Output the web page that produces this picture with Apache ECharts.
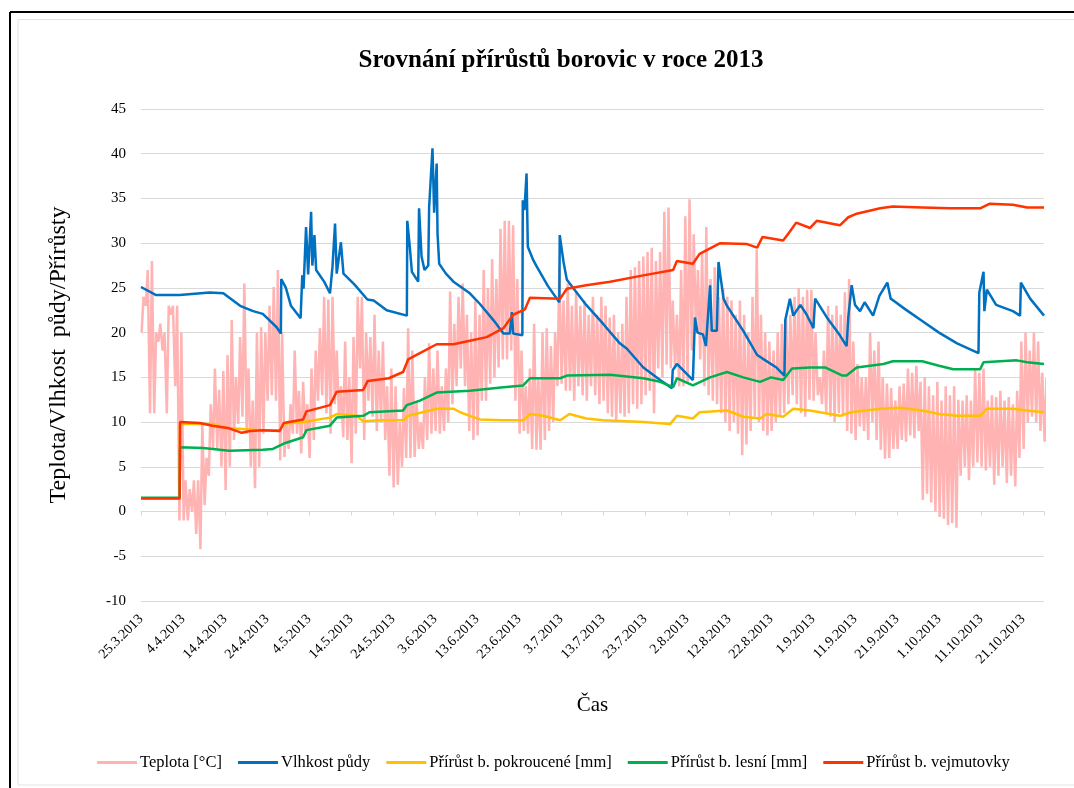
<!DOCTYPE html>
<html>
<head>
<meta charset="utf-8">
<script src="https://cdn.jsdelivr.net/npm/echarts@6/dist/echarts.min.js"></script>
<style>
html,body{margin:0;padding:0;background:#fff;}
#chart{width:1074px;height:788px;}
</style>
</head>
<body>
<div id="chart"></div>
<script>
// ---- Data (x = days since 25.3.2013) ----
const tickLabels = ['25.3.2013','4.4.2013','14.4.2013','24.4.2013','4.5.2013','14.5.2013','24.5.2013','3.6.2013','13.6.2013','23.6.2013','3.7.2013','13.7.2013','23.7.2013','2.8.2013','12.8.2013','22.8.2013','1.9.2013','11.9.2013','21.9.2013','1.10.2013','11.10.2013','21.10.2013'];
const seriesNames = ['Teplota [°C]','Vlhkost půdy','Přírůst b. pokroucené [mm]','Přírůst b. lesní [mm]','Přírůst b. vejmutovky'];

// daily minimum / maximum temperature
const tMin = [20,23,11,11,19,18,11,22,14,-1,
  -1,-1,0,-2.5,-4.2,0.7,4,7,7,5,
  2.4,5,8,9.8,10.6,8.7,5,2.6,5,8.7,
  12.4,13,12.4,5.7,6.1,7,8.7,8.7,6.5,8.7,
  6,8,12.4,13,11,8.7,12,10.6,8.3,8,
  5.4,8.7,16,8,12.4,10.6,9,10,8,4,
  2.7,3,5,6,6,6.1,7,7,8,8.7,
  9,8.7,9,10,12,14,16,14,9,8,
  8.5,12.4,12.4,14.3,15,16.1,17,17,18,12.4,
  8.7,9,8.7,7,6.9,6.9,8,9,10,14,
  14.3,13.5,13.5,12.4,14,13,12.4,14,13,12,
  12.4,11,10.6,10,11,10.6,11,12,11.5,12,
  13,13.5,11,16,15,16.4,16,16,14,14,
  14.3,18,19.9,17,14,13,12.4,12,11,10,
  9,10,8.7,6.3,7.5,9,10.6,10,9,8.5,
  9,10,10.6,11,12,13,12,11,10.6,12.5,
  12.4,13,12,11,10.6,10,11,10.6,9,8.7,
  8,9.5,9,8,10,8,6.9,5.9,6,7,
  7,8,7.8,8.5,8.2,9,1.3,2,1,0,
  -0.6,-0.8,-1.5,-1.3,-1.8,4,5,3.5,5,5.5,
  5,4.6,5,3,4,5,3.2,4,2.8,6,
  7,10,10.6,10,9,7.8];
const tMax = [24,27,28,20,21,20,23,23,23,20,
  3.5,2.5,3.5,3.5,9.8,6,12,16,13.6,15.7,
  17.5,21.4,15,19.5,25.5,16,12.4,20,20.6,20,
  23,25.1,27,20,10,12,18,13.5,14.5,12,
  16,18,20.5,24,23.7,24,18,14,19,15,
  19.5,24,24,20,19.5,22,18,19,14,16,
  14,10,13.8,20.5,18,12.4,10,15,18.8,16,
  18,14,16,24.6,21,24,25.5,22,20,23.6,
  22,27,25,28.2,26,31.6,32.5,32.5,32,26,
  18,14,16,21,15,20,20.5,18.5,20,27.3,
  23.6,25.5,23,24.6,23,23.6,22,24,22,24,
  23,21.7,22,20,21,24,27,27.3,28,28.5,
  29,29.5,28,29,33.5,34,23.6,22,27,33,
  34.9,31,27,29,31.8,26,27.3,24,25,24,
  23.6,22,23.6,22,20,24,29.3,22,20,19,
  18,20,21,21.5,22,24,25,24,24.8,24.8,
  20,15,18,23,22,23,22,24.5,26,19,
  16.5,15,15,20,18,19,15,14.3,13.8,12.4,
  14,14.3,16,15.5,16.3,14.5,15,14,13,14.5,
  12.4,14,13,14,12.5,12.4,13,12.4,16,15.5,
  16,12.4,13,12.8,13.5,12.4,12.8,12,13.5,19,
  20,18,20,19,15.5,15];

const moistDays = [0,3.6,9.2,16.4,19.6,23.6,26.7,29,32.3,33.3,33.4,34.5,35.7,38,38.4,38.7,39.3,39.8,40.5,40.8,41.3,41.7,43.6,45,45.6,46.2,46.6,47.6,48.2,50.8,53.9,55.4,58.5,63.3,63.4,64,64.5,66,66.2,66.8,67.5,68.4,68.6,69.4,69.8,70.4,70.6,71,72.6,74.4,78.3,80.7,83.9,86.3,87.8,88.3,88.6,90.8,90.9,91.3,91.8,92.1,93.4,94.2,96.9,99.6,99.7,100.6,101.4,106,110,114,115.7,119.6,123.6,126.4,126.6,127.6,131.4,131.9,132.5,133.8,134.5,135.5,135.9,137.1,137.5,138.7,139.5,143.4,146.7,148,151.3,153.2,153.4,154.5,155.3,157,158.5,160.1,160.5,163.3,166.4,168,168.4,169.2,170,171.2,172.3,174.3,175.8,177.7,178.5,179.7,182,186,190,194.3,199.4,199.6,200.6,200.8,201.4,203.6,207.6,209.3,209.5,211.7,215];
const moistVals = [25.1,24.2,24.2,24.5,24.4,23.0,22.4,22.1,20.6,19.9,26.0,25.0,23.0,21.6,26.4,24.9,31.8,26.5,33.5,27.5,30.9,27.0,25.7,24.4,27.4,32.2,26.6,30.1,26.6,25.4,23.7,23.6,22.5,21.9,32.5,29.6,26.8,25.7,33.9,28.5,27.0,27.5,34.0,40.6,33.4,38.9,31.1,27.7,26.6,25.7,24.4,23.2,21.4,19.9,19.9,22.3,19.9,19.7,34.8,33.7,37.8,29.6,28.1,27.4,25.2,23.4,30.9,27.9,25.9,23.1,21.0,18.8,18.2,16.1,14.7,13.8,15.8,16.5,14.7,21.7,20.0,19.8,18.5,25.3,20.2,20.2,27.9,23.8,23.0,20.2,17.5,17.1,16.1,15.2,21.4,23.8,21.9,23.1,22.0,20.5,23.8,21.7,19.7,18.5,21.7,25.3,23.1,22.4,23.4,21.9,24.1,25.6,23.8,23.4,22.6,21.3,20.0,18.8,17.7,24.5,26.8,22.4,24.8,23.1,22.4,21.9,25.6,23.8,21.9];

const pokrDays = [0,9.2,9.3,17,21,29,33,34,38.6,45,46.6,51.4,52.9,57,62.4,63.6,67,70.4,74.4,76,78.3,80.7,86.3,91,92.6,95.8,99.8,102,106,110,119.6,126,127.6,131.4,133,139.5,143.4,147.4,149,152.9,155.3,159.3,166.4,169,176,180.7,186,190,194.3,199.8,201.4,207.6,211,215];
const pokrVals = [1.5,1.5,9.8,9.8,9.3,9.1,9.1,9.8,10.0,10.5,10.9,10.7,10.1,10.2,10.2,10.7,11.1,11.5,11.5,11.1,10.7,10.3,10.2,10.2,10.9,10.7,10.2,10.9,10.4,10.2,10.0,9.8,10.7,10.4,11.1,11.3,10.6,10.4,10.9,10.6,11.5,11.3,10.7,11.1,11.5,11.6,11.3,10.9,10.7,10.7,11.5,11.5,11.3,11.1];

const lesniDays = [0,9.2,9.3,14.8,18.8,21,29,31.4,34,38.6,39.4,45,46.6,52.9,54.4,62.4,63.3,66.4,70.4,78.3,86.3,91,92.6,99.8,101.4,111.7,119.6,123.6,126.7,127.6,131.4,135.5,139.5,143.4,147.4,150,152.9,155,159.3,163,167,168,170.4,176.8,179,186,190,193.4,199.8,200.6,208.5,211,215];
const lesniVals = [1.55,1.55,7.2,7.1,6.9,6.8,6.9,7.0,7.6,8.3,9.1,9.6,10.5,10.7,11.1,11.3,11.9,12.4,13.3,13.5,13.9,14.1,14.9,14.9,15.2,15.3,14.9,14.5,13.9,14.9,14.1,15.0,15.6,15.0,14.5,15.0,14.7,16.0,16.1,16.1,15.2,15.2,16.1,16.5,16.8,16.8,16.3,15.9,15.9,16.7,16.9,16.7,16.5];

const vejmDays = [0,9.2,9.3,14,17,21,24,26,29,33,34,38.6,39.4,45,46.6,52.9,54,59,62.4,63.6,66.4,70.4,74.4,78.3,82.3,86.3,88.6,91.4,92.6,99.8,101.4,106,111.7,119.6,126.7,127.6,131.4,133,137.9,144.3,146.7,148,152.9,154.5,156,159.3,160.9,166.4,168.4,170.4,176,179,186,192.6,199.8,202,207.6,211,215];
const vejmVals = [1.45,1.45,10.0,9.9,9.6,9.3,8.8,9.0,9.1,9.0,9.9,10.3,11.2,11.9,13.4,13.6,14.6,14.9,15.6,17.0,17.7,18.7,18.7,19.1,19.5,20.5,22.0,22.6,23.9,23.8,24.9,25.3,25.7,26.4,27.0,28.0,27.7,28.8,30.0,29.9,29.5,30.7,30.3,31.3,32.3,31.7,32.5,32.0,32.9,33.3,33.9,34.1,34.0,33.9,33.9,34.4,34.3,34.0,34.0];

// ---- build series data ----
const zip = (xs, ys) => xs.map((x, i) => [x, ys[i]]);
const tempData = [];
tMin.forEach((v, i) => { tempData.push([i + 0.15, v]); tempData.push([i + 0.6, tMax[i]]); });

const serif = '"Liberation Serif","DejaVu Serif",serif';
const chart = echarts.init(document.getElementById('chart'), null, {renderer: 'canvas'});

function lineSeries(name, data, color, width) {
  return {
    name, type: 'line', data, xAxisIndex: 0, yAxisIndex: 0,
    symbol: 'none', showSymbol: false, smooth: false,
    lineStyle: {color, width}, itemStyle: {color},
    emphasis: {disabled: true}, silent: true
  };
}

const option = {
  animation: false,
  backgroundColor: '#ffffff',
  title: {
    text: 'Srovnání přírůstů borovic v roce 2013',
    left: 556, top: 43, textAlign: 'center',
    textStyle: {fontFamily: serif, fontSize: 25, fontWeight: 'bold', color: '#000'}
  },
  legend: {
    bottom: 12, left: 92,
    icon: 'rect', itemWidth: 40, itemHeight: 3, itemGap: 16,
    data: seriesNames,
    textStyle: {fontFamily: serif, fontSize: 16.5, color: '#000', padding: [0,0,0,-2]}
  },
  grid: {left: 141, right: 30, top: 109, bottom: 187, containLabel: false},
  xAxis: [
    {
      type: 'value', min: 0, max: 215, interval: 10,
      axisLine: {show: false, onZero: false}, axisTick: {show: false},
      splitLine: {show: false},
      axisLabel: {
        rotate: 45, margin: 16, fontFamily: serif, fontSize: 14, color: '#000',
        formatter: v => (v % 10 === 0 && tickLabels[v / 10]) ? tickLabels[v / 10] : ''
      },
      name: 'Čas', nameLocation: 'middle', nameGap: 94,
      nameTextStyle: {fontFamily: serif, fontSize: 21, color: '#000'}
    },
    {
      type: 'value', min: 0, max: 215, interval: 10, position: 'bottom',
      axisLine: {show: true, onZero: true, lineStyle: {color: '#d9d9d9', width: 1}},
      axisTick: {show: true, length: 4, lineStyle: {color: '#d9d9d9'}},
      axisLabel: {show: false}, splitLine: {show: false}
    }
  ],
  yAxis: {
    type: 'value', min: -10, max: 45, interval: 5,
    axisLine: {show: false}, axisTick: {show: false},
    splitLine: {lineStyle: {color: '#d9d9d9', width: 1}},
    axisLabel: {fontFamily: serif, fontSize: 15, color: '#000', margin: 15},
    name: 'Teplota/Vlhkost  půdy/Přírůsty', nameLocation: 'middle', nameGap: 70,
    nameTextStyle: {fontFamily: serif, fontSize: 24, color: '#000'}
  },
  graphic: [
    {type: 'line', shape: {x1: 10, y1: 12, x2: 1074, y2: 12}, style: {stroke: '#000', lineWidth: 2}, silent: true},
    {type: 'line', shape: {x1: 10, y1: 12, x2: 10, y2: 788}, style: {stroke: '#000', lineWidth: 2}, silent: true},
    {type: 'line', shape: {x1: 18, y1: 19.5, x2: 1074, y2: 19.5}, style: {stroke: '#e3e3e3', lineWidth: 1}, silent: true},
    {type: 'line', shape: {x1: 18, y1: 19.5, x2: 18, y2: 785}, style: {stroke: '#e3e3e3', lineWidth: 1}, silent: true},
    {type: 'line', shape: {x1: 18, y1: 785, x2: 1074, y2: 785}, style: {stroke: '#e3e3e3', lineWidth: 1}, silent: true}
  ],
  series: [
    lineSeries(seriesNames[0], tempData, '#FFB3B3', 2.5),
    lineSeries(seriesNames[1], zip(moistDays, moistVals), '#0070C0', 2.5),
    lineSeries(seriesNames[2], zip(pokrDays, pokrVals), '#FFC000', 2.5),
    lineSeries(seriesNames[3], zip(lesniDays, lesniVals), '#00B050', 2.5),
    lineSeries(seriesNames[4], zip(vejmDays, vejmVals), '#FF3300', 2.5)
  ]
};
chart.setOption(option);
</script>
</body>
</html>
